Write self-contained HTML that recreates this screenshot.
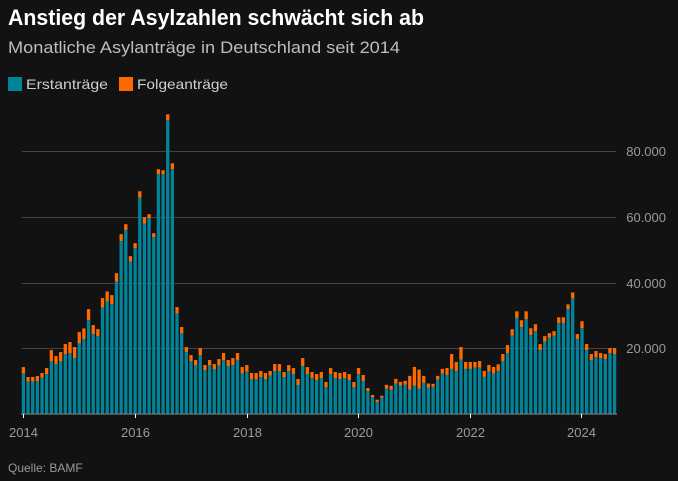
<!DOCTYPE html>
<html><head><meta charset="utf-8"><style>
html,body{margin:0;padding:0;background:#121212;}
svg{display:block;font-family:"Liberation Sans",sans-serif;}
</style></head><body>
<svg id="s" width="678" height="481" viewBox="0 0 678 481">
<rect width="678" height="481" fill="#121212"/>
<text x="8" y="25" font-size="22" font-weight="bold" fill="#fff" textLength="416" lengthAdjust="spacingAndGlyphs">Anstieg der Asylzahlen schwächt sich ab</text>
<text x="8" y="53" font-size="17" fill="#bdbdbd" textLength="392" lengthAdjust="spacingAndGlyphs">Monatliche Asylanträge in Deutschland seit 2014</text>
<rect x="8" y="77" width="14" height="14" fill="#00849a"/>
<text x="26" y="89" font-size="14" fill="#cfcfcf" textLength="82" lengthAdjust="spacingAndGlyphs">Erstanträge</text>
<rect x="119" y="77" width="14" height="14" fill="#ff6a00"/>
<text x="137" y="89" font-size="14" fill="#cfcfcf" textLength="91" lengthAdjust="spacingAndGlyphs">Folgeanträge</text>
<g stroke="#444" stroke-width="1">
<line x1="22" x2="616" y1="348.5" y2="348.5"/>
<line x1="22" x2="616" y1="283.5" y2="283.5"/>
<line x1="22" x2="616" y1="217.5" y2="217.5"/>
<line x1="22" x2="616" y1="151.5" y2="151.5"/>
</g>
<g font-size="13" fill="#9a9a9a" text-anchor="end">
<text x="666" y="353">20.000</text>
<text x="666" y="288">40.000</text>
<text x="666" y="222">60.000</text>
<text x="666" y="156">80.000</text>
</g>
<g id="bars"></g>
<line x1="21" x2="617" y1="414" y2="414" stroke="#888" stroke-width="1"/>
<g stroke="#fff" stroke-width="1">
<line x1="23.5" x2="23.5" y1="414" y2="418"/>
<line x1="135.5" x2="135.5" y1="414" y2="418"/>
<line x1="247.5" x2="247.5" y1="414" y2="418"/>
<line x1="358.5" x2="358.5" y1="414" y2="418"/>
<line x1="470.5" x2="470.5" y1="414" y2="418"/>
<line x1="581.5" x2="581.5" y1="414" y2="418"/>
</g>
<g font-size="13" fill="#9a9a9a" text-anchor="middle">
<text x="23.5" y="437">2014</text>
<text x="135.5" y="437">2016</text>
<text x="247.5" y="437">2018</text>
<text x="358.5" y="437">2020</text>
<text x="470.5" y="437">2022</text>
<text x="581.5" y="437">2024</text>
</g>
<text x="8" y="472" font-size="12" fill="#999">Quelle: BAMF</text>
</svg>
<script>
var d=[[12400,14300],[9850,11280],[9850,11280],[10050,11570],[11070,12490],[12180,14010],[16040,19490],[15230,17660],[16040,18880],[18270,21320],[18480,21930],[17060,20400],[21520,24970],[22840,26090],[28630,31980],[24370,27110],[23760,25890],[32490,35330],[34310,37360],[33500,36240],[40400,42940],[52690,54820],[56040,57870],[46500,48120],[50560,52080],[65990,67920],[58070,60000],[59690,60910],[53910,55130],[73100,74620],[73100,74320],[89540,91370],[74620,76450],[30660,32590],[24570,26500],[18880,20400],[16040,17970],[14820,16450],[17870,20100],[13400,14920],[14820,16450],[13600,15230],[14820,16750],[16450,18580],[14620,16450],[14920,17060],[16450,18580],[12380,14310],[12890,14920],[10560,12490],[10560,12490],[11270,13100],[10560,12490],[11680,13100],[13100,15230],[13100,15230],[11270,12790],[13100,14920],[12180,14010],[8830,10660],[14620,17060],[12180,14310],[10960,12790],[10360,12180],[10960,12790],[8120,9750],[12180,14010],[10960,12790],[10660,12490],[10960,12790],[10360,12180],[8120,9750],[12180,14010],[10050,11880],[7000,7920],[5080,5790],[3650,4370],[4950,5560],[7680,8890],[7370,8590],[9290,10710],[8690,9800],[8890,10100],[7470,11620],[8690,14340],[7680,13540],[9490,11620],[8080,9290],[8280,9190],[10510,11620],[12320,13740],[11920,14040],[13740,18280],[13130,15860],[16570,20400],[13740,15860],[13740,15860],[14140,15860],[14140,16160],[11310,13130],[12930,14950],[12320,14340],[13130,15150],[16160,18280],[18590,21010],[23840,25860],[29290,31310],[26460,28590],[28890,31310],[24040,26160],[25250,27370],[19490,21310],[22020,23740],[23230,24650],[23840,25250],[27680,29490],[27680,29490],[31920,33430],[35250,37070],[22830,24340],[26160,28280],[19490,21310],[16460,18280],[17370,19190],[17070,18590],[16770,18280],[18590,20100],[18280,20100]];
var g=document.getElementById('bars'),ns='http://www.w3.org/2000/svg',k=65.6/20000,h='';
for(var i=0;i<d.length;i++){var cx=23.4+i*4.655,x=(cx-1.65).toFixed(2);
var t=414-d[i][0]*k,o=414-d[i][1]*k;
h+='<rect x="'+x+'" y="'+o.toFixed(2)+'" width="3.3" height="'+(t-o).toFixed(2)+'" fill="#ff6a00"/>';
h+='<rect x="'+x+'" y="'+t.toFixed(2)+'" width="3.3" height="'+(414-t).toFixed(2)+'" fill="#00849a"/>';}
g.innerHTML=h;
</script>
</body></html>
